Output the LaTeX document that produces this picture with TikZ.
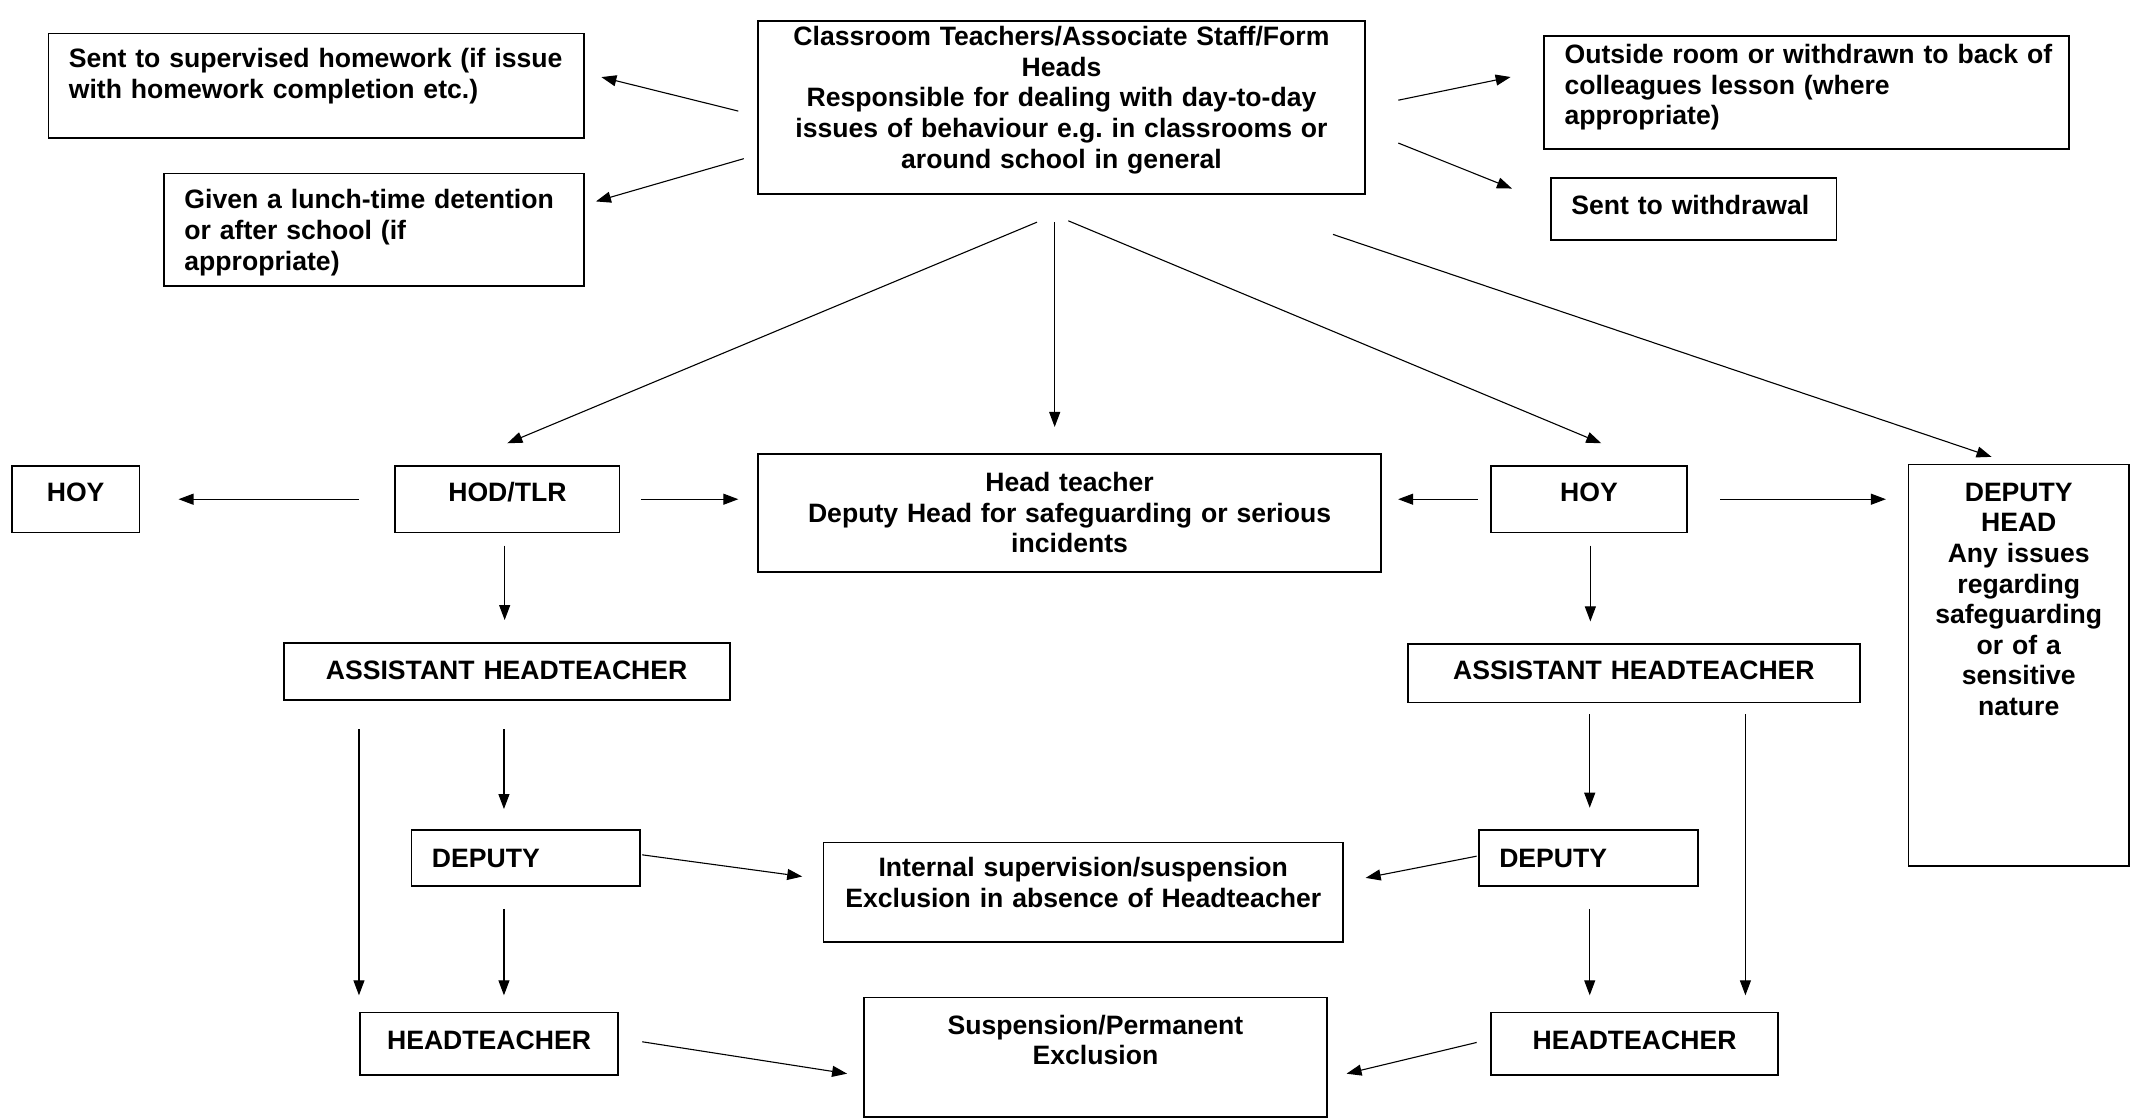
\documentclass[tikz,border=0pt]{standalone}
\usepackage{fontspec}
\setmainfont{Liberation Sans}
\usetikzlibrary{arrows.meta,calc}
\frenchspacing
\begin{document}
\begin{tikzpicture}[x=0.68pt, y=-0.68pt,
	font=\fontsize{13.3}{15.3}\selectfont\bfseries,
	box/.style={draw, line width=0.9pt, anchor=north west, inner xsep=10.2pt, inner ysep=0pt},
	arr/.style={-{Triangle[length=7.5pt,width=5.5pt]}, line width=0.55pt}]
	\useasboundingbox (0,0) rectangle (1568,822);
	%top row
	\node[box, align=center, text width=282.9pt, text height=12.2pt, text depth=74.2pt] (teach) at (557,15)
	{Classroom Teachers/Associate Staff/Form\\Heads\\Responsible for dealing with day-to-day\\issues of behaviour e.g. in classrooms or\\around school in general};
	\node[box, align=left, text width=247.5pt, text height=17pt, text depth=35.4pt] (homework) at (35,24)
	{Sent to supervised homework (if issue\\with homework completion etc.)};
	\node[box, align=left, text width=189.7pt, text height=17.7pt, text depth=38.7pt] (lunch) at (120,127)
	{Given a lunch-time detention\\or after school (if\\appropriate)};
	\node[box, align=left, text width=242.1pt, text height=13.6pt, text depth=42.8pt] (outside) at (1135,26)
	{\mbox{Outside room or withdrawn to back of}\\colleagues lesson (where\\appropriate)};
	\node[box, align=left, text width=122.4pt, text height=18.4pt, text depth=12.9pt] (withdraw) at (1140,130)
	{Sent to withdrawal};
	%middle row
	\node[box, align=center, text width=43.5pt, text height=17.7pt, text depth=15.6pt] (hoyL) at (8,342) {HOY};
	\node[box, align=center, text width=91.8pt, text height=17.7pt, text depth=15.6pt] (hod) at (290,342) {HOD/TLR};
	\node[box, align=center, text width=291pt, text height=19pt, text depth=40.2pt] (head) at (557,333)
	{Head teacher\\Deputy Head for safeguarding or serious\\incidents};
	\node[box, align=center, text width=77.5pt, text height=17.7pt, text depth=15.6pt] (hoyR) at (1096,342) {HOY};
	\node[box, align=center, text width=89.8pt, text height=18.4pt, text depth=182.2pt] (dephead) at (1403,341)
	{DEPUTY\\HEAD\\Any issues\\regarding\\safeguarding\\or of a\\sensitive\\nature};
	%assistant heads
	\node[box, align=center, text width=202.6pt, text height=18.4pt, text depth=10.2pt] (asstL) at (208,472) {ASSISTANT HEADTEACHER};
	\node[box, align=center, text width=205.4pt, text height=17.7pt, text depth=11.5pt] (asstR) at (1035,473) {ASSISTANT HEADTEACHER};
	%deputies
	\node[box, align=left, text width=93.8pt, text height=18.4pt, text depth=9.5pt] (depL) at (302,610) {DEPUTY};
	\node[box, align=center, text width=239.4pt, text height=17pt, text depth=32.6pt] (internal) at (605,619)
	{Internal supervision/suspension\\Exclusion in absence of Headteacher};
	\node[box, align=left, text width=89.1pt, text height=18.4pt, text depth=9.5pt] (depR) at (1087,610) {DEPUTY};
	%headteachers
	\node[box, align=center, text width=108.8pt, text height=18.4pt, text depth=12.9pt] (headL) at (264,744) {HEADTEACHER};
	\node[box, align=center, text width=210.8pt, text height=18.4pt, text depth=41.4pt] (susp) at (635,733)
	{Suspension/Permanent\\Exclusion};
	\node[box, align=center, text width=123.1pt, text height=18.4pt, text depth=12.9pt] (headR) at (1096,744) {HEADTEACHER};
	%arrows from the top box
	\draw[arr] ($(teach.west)+(-14,2.5)$) -- ($(homework.east)+(12,-6.5)$);
	\draw[arr] ($(teach.west)+(-10,37.5)$) -- ($(lunch.east)+(8,-21)$);
	\draw[arr] ($(teach.east)+(24,-5.5)$) -- ($(outside.west)+(-24,-11.5)$);
	\draw[arr] ($(teach.east)+(24,26)$) -- ($(withdraw.west)+(-28,-15)$);
	\draw[arr] ($(teach.south)+(-18,20)$) -- ($(hod.north)+(0,-16)$);
	\draw[arr] ($(teach.south)+(-5,20)$) -- ($(teach.south |- head.north)+(-5,-19)$);
	\draw[arr] ($(teach.south)+(5,19)$) -- ($(hoyR.north)+(9,-16)$);
	\draw[arr] ($(teach.south east)+(-24,29)$) -- ($(dephead.north)+(-20,-5)$);
	%middle row
	\draw[arr] ($(hod.west)+(-26,0)$) -- ($(hoyL.east)+(28,0)$);
	\draw[arr] ($(hod.east)+(15,0)$) -- ($(head.west |- hod.east)+(-14,0)$);
	\draw[arr] ($(hoyR.west)+(-9,0)$) -- ($(head.east |- hoyR.west)+(12,0)$);
	\draw[arr] ($(hoyR.east)+(24,0)$) -- ($(dephead.west |- hoyR.east)+(-16,0)$);
	\draw[arr] ($(hod.south)+(-2,9)$) -- ($(hod.south |- asstL.north)+(-2,-16)$);
	\draw[arr] ($(hoyR.south)+(1,9)$) -- ($(hoyR.south |- asstR.north)+(1,-16)$);
	%left column
	\draw[arr] ($(asstL.south)+(-2,21)$) -- ($(asstL.south |- depL.north)+(-2,-15)$);
	\draw[arr] ($(headL.north west |- asstL.south)+(0,21)$) -- ($(headL.north west)+(0,-12)$);
	\draw[arr] ($(depL.south)+(-16,16)$) -- ($(depL.south |- headL.north)+(-16,-12)$);
	\draw[arr] ($(depL.east)+(1,-2.5)$) -- ($(internal.west)+(-15,-11.5)$);
	\draw[arr] ($(headL.east)+(17,-1.5)$) -- ($(susp.west)+(-12,12)$);
	%right column
	\draw[arr] ($(depR.north |- asstR.south)+(1,8)$) -- ($(depR.north)+(1,-16)$);
	\draw[arr] ($(asstR.south)+(82,8)$) -- ($(asstR.south |- headR.north)+(82,-12)$);
	\draw[arr] ($(depR.south)+(1,16)$) -- ($(depR.south |- headR.north)+(1,-12)$);
	\draw[arr] ($(depR.west)+(-1,-1.5)$) -- ($(internal.east)+(16,-10.5)$);
	\draw[arr] ($(headR.west)+(-10,-1)$) -- ($(susp.east)+(14,12)$);
\end{tikzpicture}
\end{document}
